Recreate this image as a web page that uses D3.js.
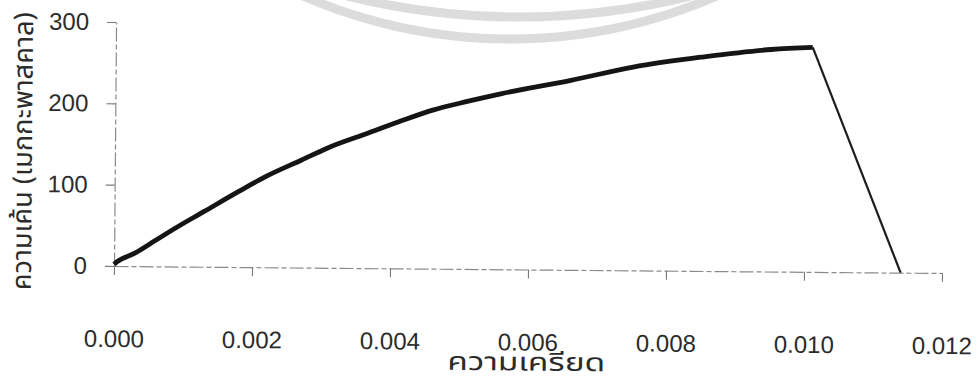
<!DOCTYPE html>
<html>
<head>
<meta charset="utf-8">
<script src="https://cdn.jsdelivr.net/npm/d3@7/dist/d3.min.js"></script>
<style>
  html, body { margin: 0; padding: 0; background: #fff; }
  svg { display: block; }
  .tick text { font-family: "Liberation Sans", Arial, sans-serif; font-size: 24px; fill: #2b2b2b; }
  .title { font-family: "Noto Sans Thai", "Noto Sans", "DejaVu Sans", sans-serif; fill: #2b2b2b; }
</style>
</head>
<body>
<script>
// Stress–strain test record
const strain = [0, 0.00004, 0.0003, 0.0006, 0.0009, 0.0013, 0.0018, 0.0022, 0.0027, 0.0031,
                0.0036, 0.0041, 0.0046, 0.0051, 0.0056, 0.0066, 0.0075, 0.0085, 0.0095, 0.0101, 0.0114];
const stress = [2, 5, 16, 32, 48, 68, 93, 112, 132, 148,
                164, 180, 195, 206, 216, 233, 250, 263, 273, 276, 0];
const xTicks = [0, 0.002, 0.004, 0.006, 0.008, 0.010, 0.012];
const yTicks = [0, 100, 200, 300];
const xTitle = "ความเครียด";
const yTitle = "ความเค้น (เมกกะพาสคาล)";

const W = 978, H = 378;
const svg = d3.select("body").append("svg").attr("width", W).attr("height", H);

// faint ring stamp behind the chart
const stamp = svg.append("g").attr("fill", "none").attr("stroke", "#dcdcdc").attr("stroke-width", 9);
[[519, -697, 714], [510, -480, 519]].forEach(([cx, cy, r]) => {
  const p = d3.path();
  const a0 = Math.PI / 2 + 0.5, a1 = Math.PI / 2 - 0.5;
  p.arc(cx, cy, r, a0, a1, true);
  stamp.append("path").attr("d", p.toString());
});

const x = d3.scaleLinear().domain([0, 0.012]).range([114, 942]);
const y = d3.scaleLinear().domain([0, 300]).range([266, 22]);

// the whole sheet sits a touch off level
const g = svg.append("g").attr("transform", "rotate(0.484 114 266)");

const axisStyle = sel => {
  sel.select(".domain").attr("stroke", "#8a8a8a").attr("stroke-width", 1.2)
     .attr("stroke-dasharray", "14 3 5 3");
  sel.selectAll(".tick line").attr("stroke", "#7a7a7a").attr("stroke-width", 1.1);
};

g.append("g")
  .attr("transform", `translate(0,${y(0)})`)
  .call(d3.axisBottom(x).tickValues(xTicks).tickFormat(d3.format(".3f"))
        .tickSize(9).tickSizeOuter(0).tickPadding(55))
  .call(axisStyle);

g.append("g")
  .attr("transform", `translate(${x(0)},0)`)
  .call(d3.axisLeft(y).tickValues(yTicks).tickFormat(d3.format("d"))
        .tickSize(9).tickSizeOuter(0).tickPadding(18))
  .call(axisStyle);

const pts = strain.map((s, i) => [s, stress[i]]);
const loading = pts.slice(0, pts.length - 1);
const drop = pts.slice(pts.length - 2);

const line = d3.line().x(d => x(d[0])).y(d => y(d[1]));

g.append("path")
  .datum(loading)
  .attr("fill", "none").attr("stroke", "#151515").attr("stroke-width", 4.8)
  .attr("stroke-linejoin", "round")
  .attr("d", line.curve(d3.curveMonotoneX));

g.append("path")
  .datum(drop)
  .attr("fill", "none").attr("stroke", "#1c1c1c").attr("stroke-width", 2.2)
  .attr("d", d3.line().x(d => x(d[0])).y(d => y(d[1])));

g.append("text").attr("class", "title")
  .attr("x", x(0.006) - 1).attr("y", 367)
  .attr("text-anchor", "middle").attr("font-size", 25)
  .attr("textLength", 158).attr("lengthAdjust", "spacingAndGlyphs")
  .text(xTitle);

g.append("text").attr("class", "title")
  .attr("transform", `translate(31,152) rotate(-90)`)
  .attr("text-anchor", "middle").attr("font-size", 27)
  .attr("textLength", 278).attr("lengthAdjust", "spacingAndGlyphs")
  .text(yTitle);
</script>
</body>
</html>
